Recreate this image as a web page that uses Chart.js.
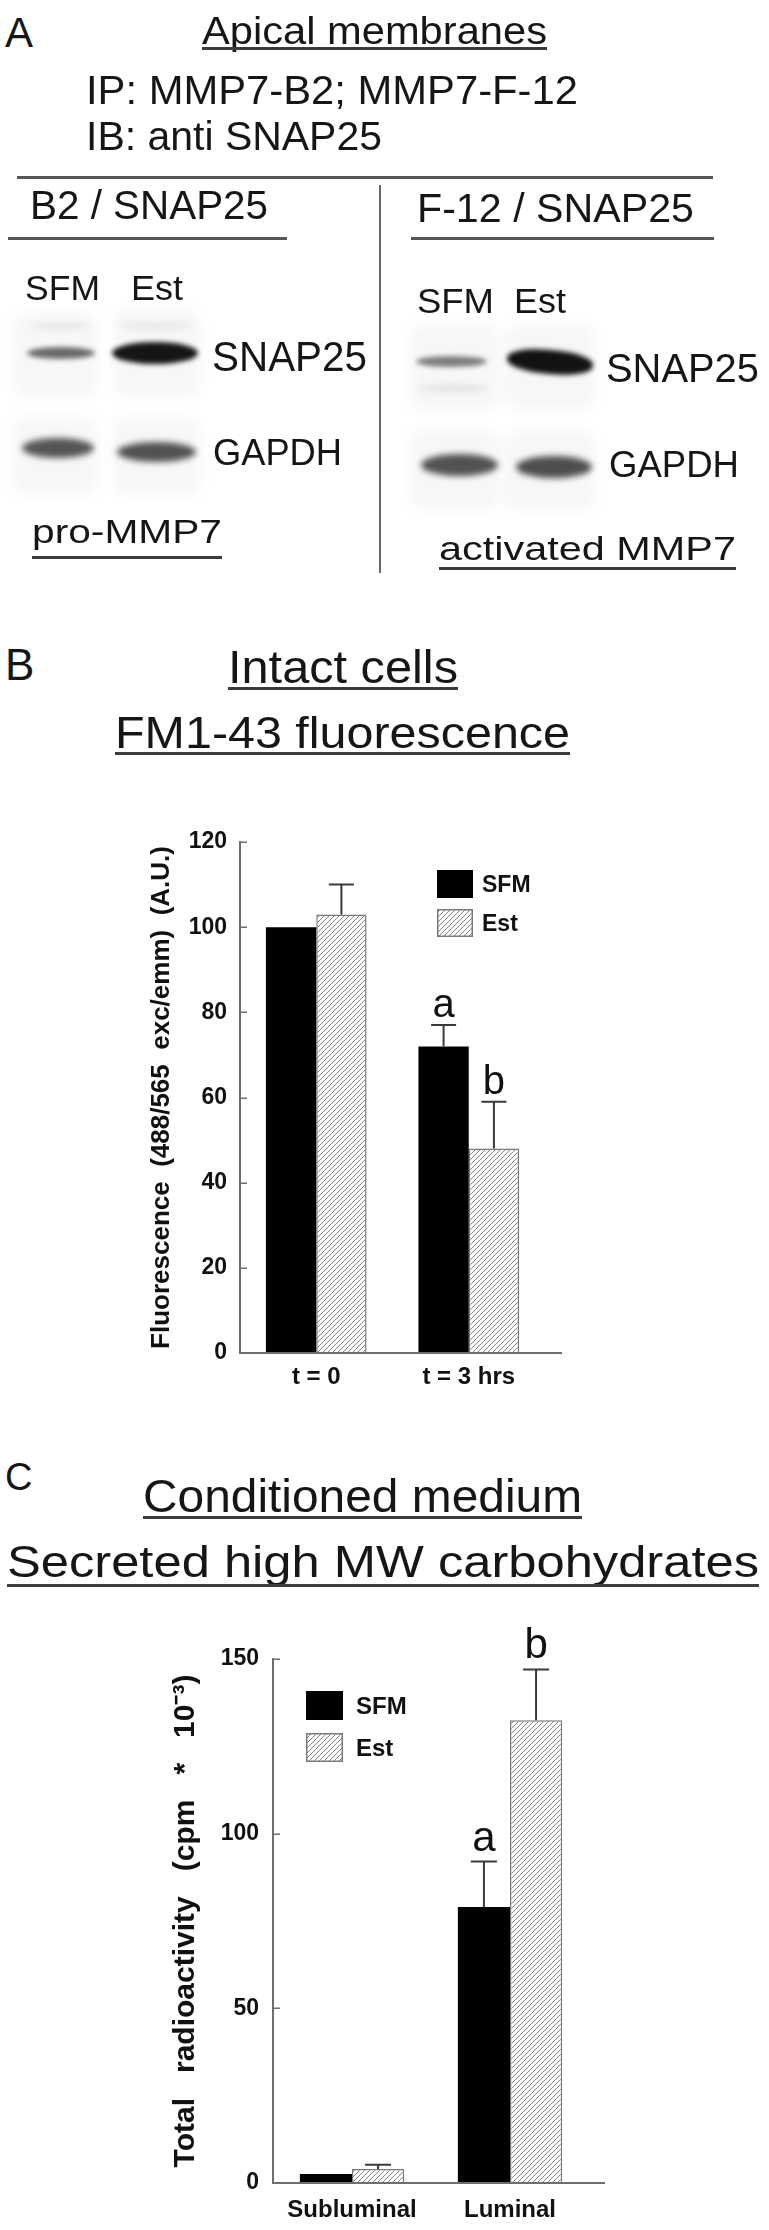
<!DOCTYPE html>
<html><head><meta charset="utf-8">
<script src="https://cdn.jsdelivr.net/npm/chart.js@4.4.1/dist/chart.umd.min.js"></script>
<style>
html,body{margin:0;padding:0;background:#fff;}
#page{position:relative;width:769px;height:2230px;overflow:hidden;font-family:'Liberation Sans',Arial,Helvetica,sans-serif;color:#161616;}
.t{position:absolute;white-space:pre;line-height:1;}
.ln{position:absolute;background:#4a4a4a;}
.blob{position:absolute;}
canvas{position:absolute;}
</style></head>
<body><div id="page">
<canvas id="chartB" width="639" height="600" style="left:130px;top:800px;width:639px;height:600px"></canvas>
<canvas id="chartC" width="639" height="610" style="left:130px;top:1620px;width:639px;height:610px"></canvas>
</div>
<script>
// ---------- data ----------
const fluorCategories = ['t = 0', 't = 3 hrs'];
const fluorSFM = [100, 72];
const fluorEst = [103, 48];
const fluorSFMErr = [0, 5];
const fluorEstErr = [7, 11];
const fluorSFMLetters = ['', 'a'];
const fluorEstLetters = ['', 'b'];
const fluorTicks = [0, 20, 40, 60, 80, 100, 120];

const carbCategories = ['Subluminal', 'Luminal'];
const carbSFM = [2.6, 79];
const carbEst = [4, 132.5];
const carbSFMErr = [0, 13];
const carbEstErr = [1.2, 14.5];
const carbSFMLetters = ['', 'a'];
const carbEstLetters = ['', 'b'];
const carbTicks = [0, 50, 100, 150];

const seriesNames = ['SFM', 'Est'];

// ---------- page text (panel A + headings) ----------
const page = document.getElementById('page');
function line(x, y, w, h, c) {
  const d = document.createElement('div'); d.className = 'ln';
  d.style.left = x + 'px'; d.style.top = y + 'px'; d.style.width = w + 'px'; d.style.height = h + 'px';
  if (c) d.style.background = c;
  page.appendChild(d);
}
function addText(s, x, base, size, w, uy) {
  const d = document.createElement('div'); d.className = 't'; d.textContent = s;
  d.style.fontSize = size + 'px'; d.style.left = x + 'px'; d.style.top = (base - 0.8465 * size) + 'px';
  page.appendChild(d);
  const nat = d.getBoundingClientRect().width; let sw = nat;
  if (w) { d.style.transformOrigin = '0 0'; d.style.transform = 'scaleX(' + (w / nat) + ')'; sw = w; }
  if (uy) line(x, uy, sw, 3, '#3c3c3c');
}
function blob(x, y, w, h, color, blur, radius, rot) {
  const d = document.createElement('div'); d.className = 'blob';
  d.style.left = x + 'px'; d.style.top = y + 'px'; d.style.width = w + 'px'; d.style.height = h + 'px';
  d.style.background = color; d.style.filter = 'blur(' + blur + 'px)';
  d.style.borderRadius = radius || '50%';
  if (rot) d.style.transform = 'rotate(' + rot + 'deg)';
  page.appendChild(d);
}

// blot lane backgrounds
[[13,313,84,84],[113,310,87,87],[13,418,84,77],[113,418,87,77],
 [410,325,90,85],[505,325,90,85],[410,430,90,80],[505,430,90,80]].forEach(r => blob(r[0], r[1], r[2], r[3], 'rgba(0,0,0,0.03)', 6, '14px'));
// faint secondary bands
blob(30, 322, 62, 8, 'rgba(0,0,0,0.06)', 3);
blob(118, 322, 76, 8, 'rgba(0,0,0,0.06)', 3);
blob(418, 384, 70, 9, 'rgba(0,0,0,0.07)', 3);
// SNAP25 bands
blob(27, 347, 68, 12, 'rgba(45,45,45,0.7)', 2.5);
blob(112, 342, 86, 22, 'rgba(8,8,8,0.95)', 2.5);
blob(416, 356, 71, 11, 'rgba(50,50,50,0.62)', 2.5);
blob(507, 350, 86, 24, 'rgba(5,5,5,0.95)', 2.5, '45%', 5);
// GAPDH bands
blob(22, 438, 72, 20, 'rgba(40,40,40,0.78)', 3);
blob(117, 442, 79, 20, 'rgba(40,40,40,0.8)', 3);
blob(421, 454, 77, 22, 'rgba(40,40,40,0.8)', 3);
blob(516, 456, 76, 22, 'rgba(40,40,40,0.82)', 3);

// rules of panel A
line(17, 176, 696, 3, '#555');
line(8, 237, 279, 3, '#555');
line(411, 237, 303, 3, '#555');
line(379, 185, 2, 388, '#666');

// [text, x, baseline, size, targetWidth, underlineY]
const TEXTS = [
  ['A', 5, 48, 42],
  ['Apical membranes', 202, 44, 38, 345, 47],
  ['IP: MMP7-B2; MMP7-F-12', 86, 104, 40, 492],
  ['IB: anti SNAP25', 86, 150, 40, 296],
  ['B2 / SNAP25', 30, 220, 41, 238],
  ['F-12 / SNAP25', 417, 222, 40, 277],
  ['SFM', 25, 300, 35, 75],
  ['Est', 131, 300, 35, 52],
  ['SFM', 417, 313, 35, 77],
  ['Est', 514, 313, 35, 52],
  ['SNAP25', 212, 372, 42, 155],
  ['GAPDH', 213, 465, 37, 129],
  ['SNAP25', 606, 383, 41, 153],
  ['GAPDH', 609, 477, 36, 130],
  ['pro-MMP7', 32, 543, 34, 190, 556],
  ['activated MMP7', 439, 560, 33, 297, 567],
  ['B', 5, 680, 44],
  ['Intact cells', 228, 683, 46, 230, 687],
  ['FM1-43 fluorescence', 115, 748, 45, 455, 752],
  ['C', 5, 1490, 38],
  ['Conditioned medium', 143, 1512, 47, 439, 1516],
  ['Secreted high MW carbohydrates', 7, 1577, 45, 752, 1584]
];
TEXTS.forEach(t => addText(t[0], t[1], t[2], t[3], t[4], t[5]));

// ---------- charts ----------
const FONT = "'Liberation Sans', Arial, Helvetica, sans-serif";
Chart.defaults.font.family = FONT;
Chart.defaults.color = '#111';

function hatchPattern() {
  const c = document.createElement('canvas'); c.width = c.height = 5;
  const x = c.getContext('2d');
  x.fillStyle = '#fff'; x.fillRect(0, 0, 5, 5);
  x.strokeStyle = '#858585'; x.lineWidth = 1;
  x.beginPath();
  x.moveTo(-1, 6); x.lineTo(6, -1);
  x.moveTo(-1, 1); x.lineTo(1, -1);
  x.moveTo(4, 6); x.lineTo(6, 4);
  x.stroke();
  return x.createPattern(c, 'repeat');
}

const figPlugin = {
  id: 'fig',
  afterDatasetsDraw(chart, args, o) {
    const { ctx, chartArea: a, scales: { y } } = chart;
    ctx.save();
    ctx.strokeStyle = o.axisColor; ctx.lineWidth = 2;
    ctx.beginPath(); ctx.moveTo(a.left - 1, a.bottom); ctx.lineTo(a.right + o.axisExt, a.bottom); ctx.stroke();
    ctx.lineWidth = 1.5;
    y.ticks.forEach(t => {
      const py = Math.round(y.getPixelForValue(t.value)) + 0.25;
      ctx.beginPath(); ctx.moveTo(a.left, py); ctx.lineTo(a.left + o.tickLen, py); ctx.stroke();
    });
    chart.data.datasets.forEach((ds, di) => {
      const meta = chart.getDatasetMeta(di);
      meta.data.forEach((bar, i) => {
        const e = ds.errors[i];
        if (!e) return;
        const top = y.getPixelForValue(ds.data[i] + e);
        ctx.strokeStyle = o.errColor; ctx.lineWidth = 2;
        ctx.beginPath();
        ctx.moveTo(bar.x, bar.y); ctx.lineTo(bar.x, top);
        ctx.moveTo(bar.x - o.capW / 2, top); ctx.lineTo(bar.x + o.capW / 2, top);
        ctx.stroke();
        const L = ds.letters[i];
        if (L) {
          ctx.fillStyle = '#111'; ctx.font = o.letterFont;
          ctx.textAlign = 'center'; ctx.textBaseline = 'alphabetic';
          ctx.fillText(L, bar.x, top - o.letterGap);
        }
      });
    });
    chart.data.datasets.forEach((ds, di) => {
      const bx = a.left + o.legX, by = a.top + o.legY + di * o.legStep;
      ctx.fillStyle = ds.backgroundColor; ctx.fillRect(bx, by, o.legW, o.legH);
      if (ds.borderWidth) {
        ctx.strokeStyle = ds.borderColor; ctx.lineWidth = 1.5;
        ctx.strokeRect(bx + 0.75, by + 0.75, o.legW - 1.5, o.legH - 1.5);
      }
      ctx.fillStyle = '#111'; ctx.font = o.legFont;
      ctx.textAlign = 'left'; ctx.textBaseline = 'middle';
      ctx.fillText(ds.label, bx + o.legW + o.legGap, by + o.legH / 2 + 2);
    });
    ctx.restore();
  }
};

function makeChart(id, cfg) {
  const ticks = cfg.ticks;
  return new Chart(document.getElementById(id), {
    type: 'bar',
    data: {
      labels: cfg.labels,
      datasets: [
        { label: seriesNames[0], data: cfg.sfm, errors: cfg.sfmErr, letters: cfg.sfmLetters,
          backgroundColor: '#000', borderColor: '#000', borderWidth: 0 },
        { label: seriesNames[1], data: cfg.est, errors: cfg.estErr, letters: cfg.estLetters,
          backgroundColor: hatchPattern(), borderColor: '#7a7a7a', borderWidth: 1.5 }
      ]
    },
    options: {
      responsive: false, animation: false, devicePixelRatio: 1,
      layout: { padding: cfg.padding },
      datasets: { bar: { categoryPercentage: 0.66, barPercentage: 1 } },
      plugins: {
        legend: { display: false }, tooltip: { enabled: false },
        fig: cfg.fig
      },
      scales: {
        x: {
          grid: { display: false, drawTicks: false }, border: { display: false },
          ticks: { font: { size: 24, weight: 'bold' }, color: '#111', padding: cfg.xPad },
          afterFit(s) { s.height = cfg.xHeight; }
        },
        y: {
          min: ticks[0], max: ticks[ticks.length - 1],
          grid: { display: false, drawTicks: false },
          border: { display: true, color: '#6e6e6e', width: 2 },
          ticks: { stepSize: ticks[1] - ticks[0], font: { size: 23, weight: 'bold' }, color: '#111', padding: cfg.yPad },
          title: { display: true, text: cfg.yTitle, color: '#111',
                   font: { size: cfg.yTitleSize, weight: 'bold' }, padding: { top: cfg.yTitlePad, bottom: 0 } },
          afterFit(s) { s.width = cfg.yWidth; }
        }
      }
    },
    plugins: [figPlugin]
  });
}

makeChart('chartB', {
  labels: fluorCategories, sfm: fluorSFM, est: fluorEst,
  sfmErr: fluorSFMErr, estErr: fluorEstErr, sfmLetters: fluorSFMLetters, estLetters: fluorEstLetters,
  ticks: fluorTicks,
  padding: { left: 0, right: 224, top: 42, bottom: 0 },
  xHeight: 47, yWidth: 110, xPad: 10, yPad: 13,
  yTitle: 'Fluorescence  (488/565  exc/emm)  (A.U.)', yTitleSize: 26, yTitlePad: 16,
  fig: { axisColor: '#6e6e6e', axisExt: 17, tickLen: 7, errColor: '#3a3a3a', capW: 25,
         letterFont: '40px ' + FONT, letterGap: 8,
         legX: 197, legY: 28, legStep: 39, legW: 36, legH: 28, legGap: 9, legFont: 'bold 23px ' + FONT }
});

makeChart('chartC', {
  labels: carbCategories, sfm: carbSFM, est: carbEst,
  sfmErr: carbSFMErr, estErr: carbEstErr, sfmLetters: carbSFMLetters, estLetters: carbEstLetters,
  ticks: carbTicks,
  padding: { left: 0, right: 180, top: 39, bottom: 0 },
  xHeight: 47, yWidth: 143, xPad: 13, yPad: 14,
  yTitle: 'Total   radioactivity   (cpm   *   10\u207B\u00B3)', yTitleSize: 30, yTitlePad: 38,
  fig: { axisColor: '#6e6e6e', axisExt: 16, tickLen: 7, errColor: '#3a3a3a', capW: 26,
         letterFont: '42px ' + FONT, letterGap: 11,
         legX: 33, legY: 32, legStep: 42, legW: 37, legH: 29, legGap: 13, legFont: 'bold 24px ' + FONT }
});
</script>
</body></html>
